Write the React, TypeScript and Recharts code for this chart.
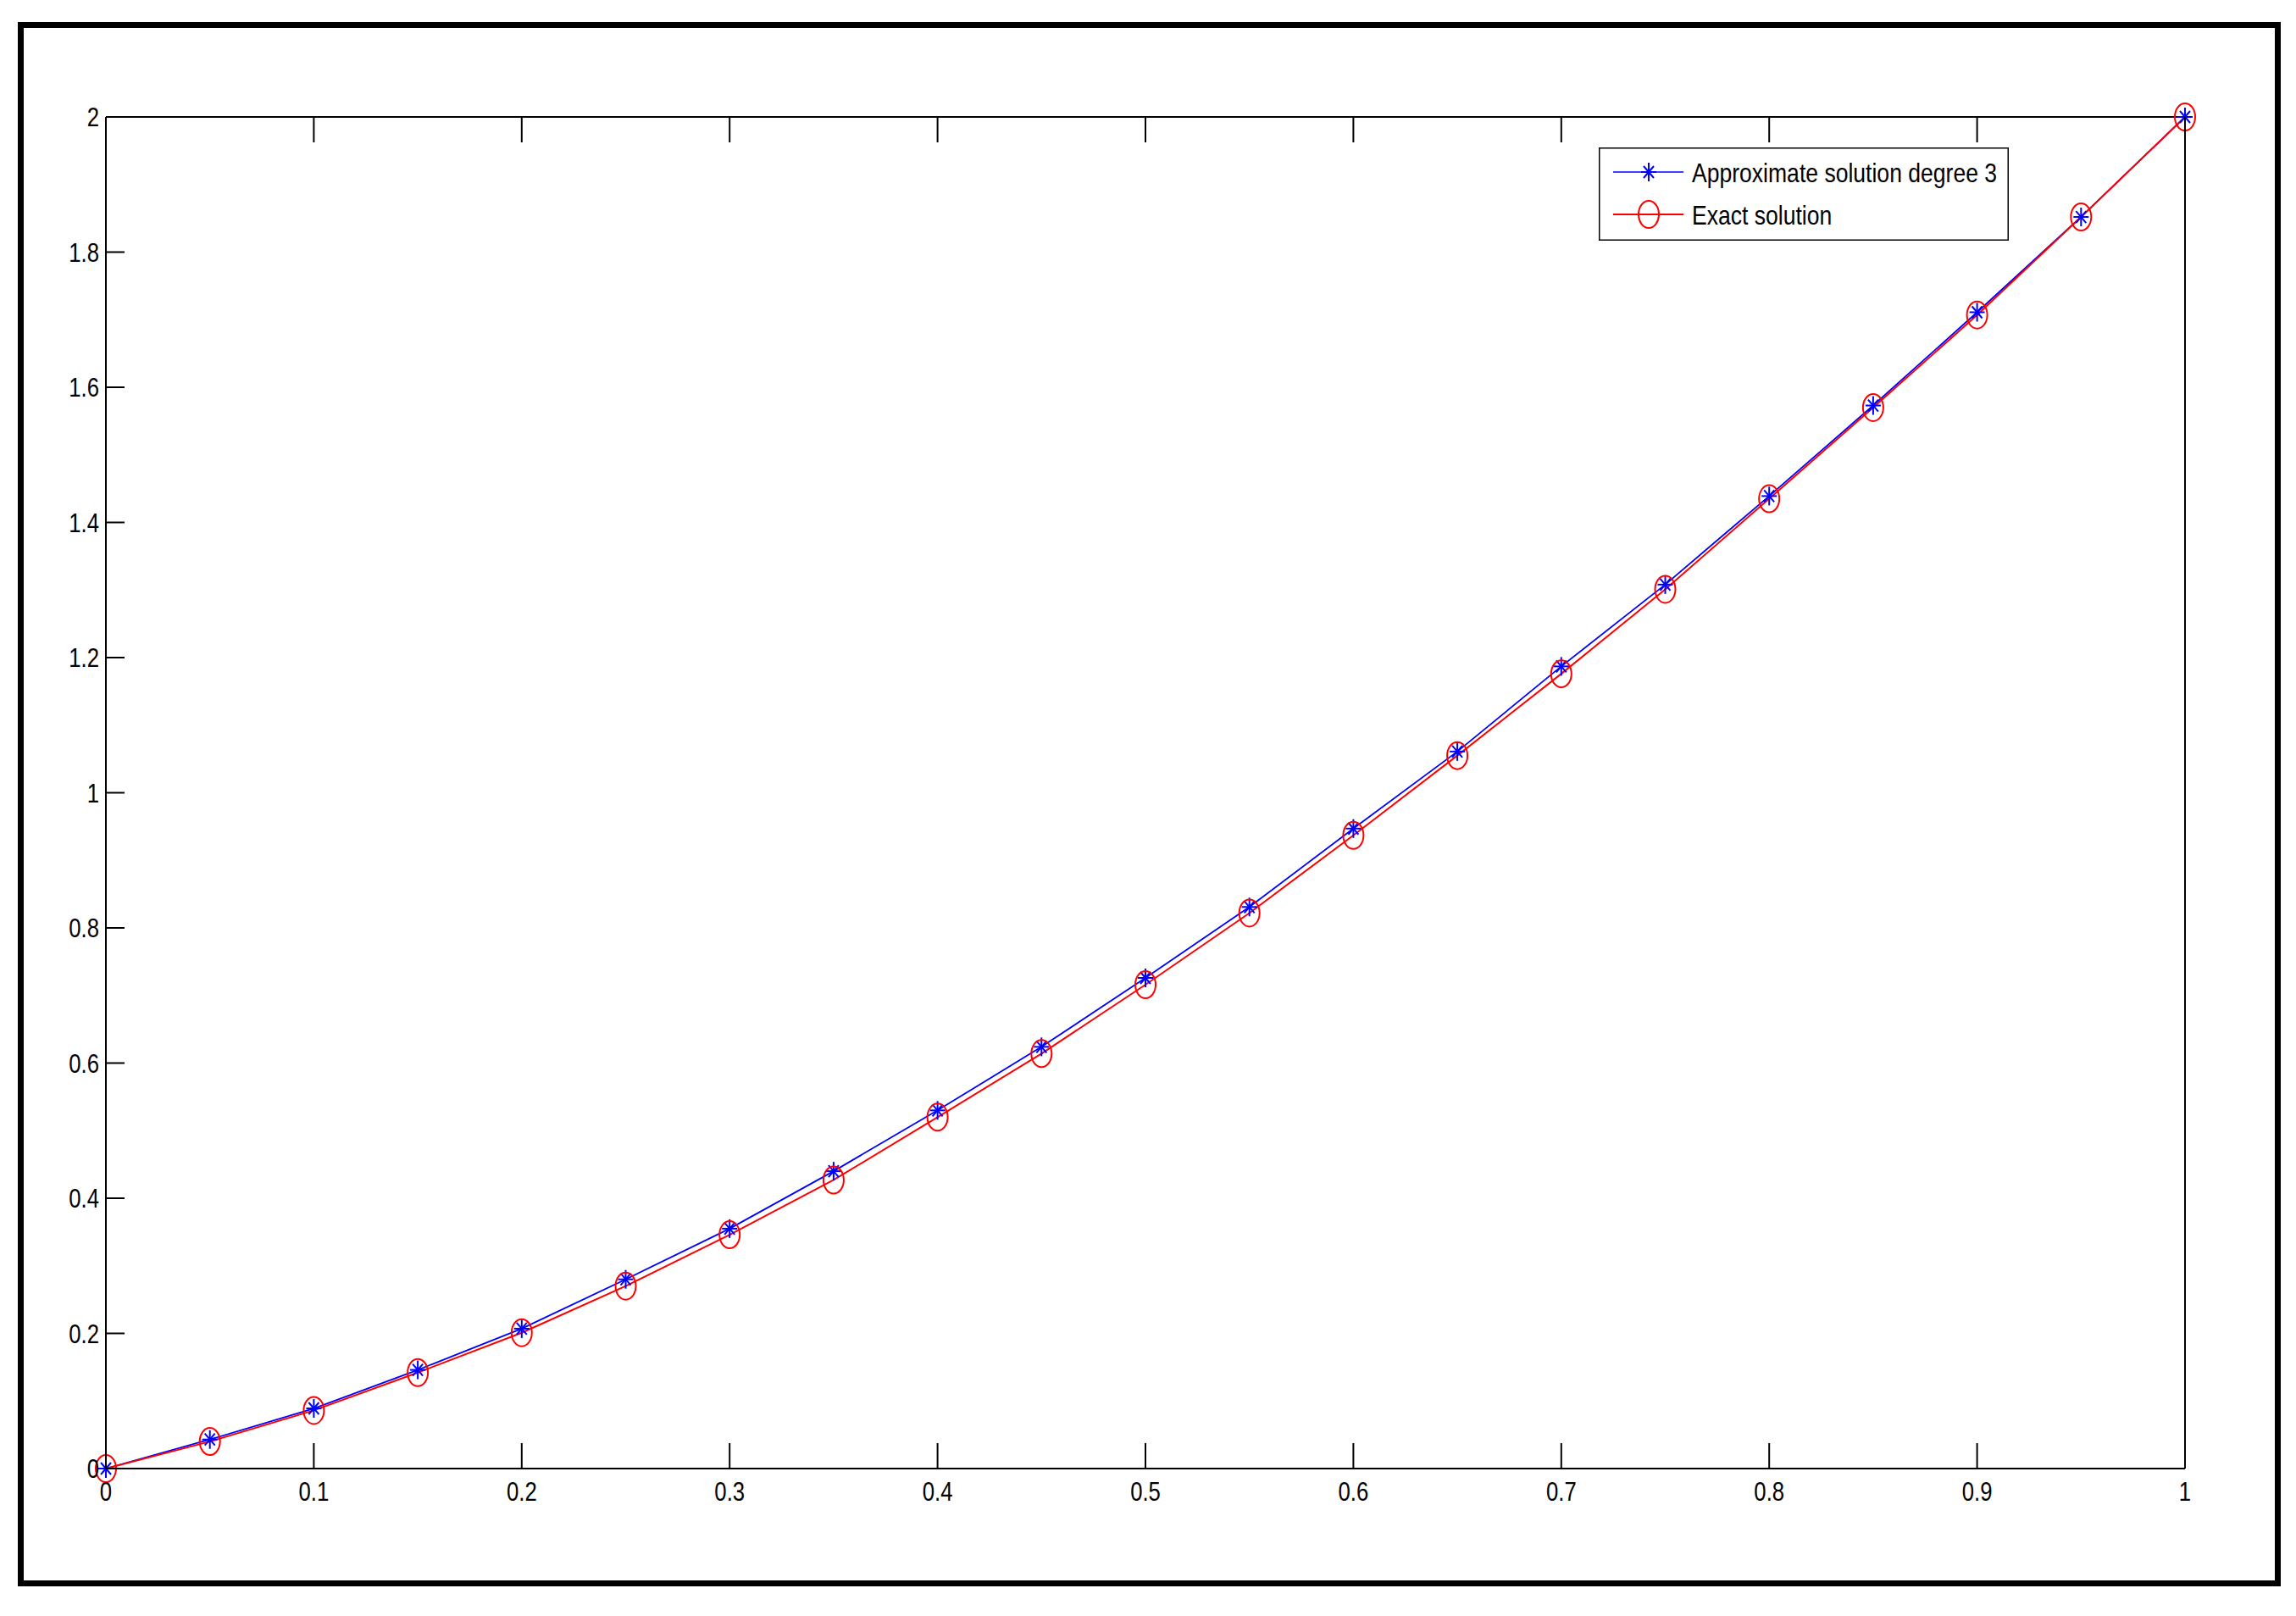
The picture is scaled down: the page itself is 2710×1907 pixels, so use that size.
import React from "react";
import { LineChart, Line, XAxis, YAxis, Legend } from "recharts";

// values
const xValues = [0, 0.05, 0.1, 0.15, 0.2, 0.25, 0.3, 0.35, 0.4, 0.45, 0.5, 0.55, 0.6, 0.65, 0.7, 0.75, 0.8, 0.85, 0.9, 0.95, 1];
const approxValues = [0, 0.043, 0.089, 0.146, 0.207, 0.28, 0.355, 0.44, 0.53, 0.624, 0.726, 0.831, 0.947, 1.061, 1.187, 1.308, 1.439, 1.573, 1.711, 1.852, 2.0];
const exactValues = [0, 0.04, 0.086, 0.142, 0.201, 0.27, 0.346, 0.427, 0.52, 0.614, 0.716, 0.822, 0.937, 1.055, 1.176, 1.301, 1.435, 1.57, 1.707, 1.852, 2.0];

const xTicks = [0, 0.1, 0.2, 0.3, 0.4, 0.5, 0.6, 0.7, 0.8, 0.9, 1];
const xTickLabels = ["0", "0.1", "0.2", "0.3", "0.4", "0.5", "0.6", "0.7", "0.8", "0.9", "1"];
const yTicks = [0, 0.2, 0.4, 0.6, 0.8, 1, 1.2, 1.4, 1.6, 1.8, 2];
const yTickLabels = ["0", "0.2", "0.4", "0.6", "0.8", "1", "1.2", "1.4", "1.6", "1.8", "2"];

const chartData = xValues.map((x, i) => ({ x, approx: approxValues[i], exact: exactValues[i] }));

const FONT = '"Liberation Sans", Arial, sans-serif';
const SQUEEZE = 0.83;

const labelFor = (ticks: number[], labels: string[], v: number) => {
  const i = ticks.indexOf(v);
  return i >= 0 ? labels[i] : String(v);
};

const Star = ({ cx, cy }: { cx: number; cy: number }) => (
  <g stroke="#0000ff" strokeWidth={2}>
    <line x1={cx} y1={cy - 11} x2={cx} y2={cy + 11} />
    <line x1={cx - 9} y1={cy} x2={cx + 9} y2={cy} />
    <line x1={cx - 6} y1={cy - 7} x2={cx + 6} y2={cy + 7} />
    <line x1={cx - 6} y1={cy + 7} x2={cx + 6} y2={cy - 7} />
  </g>
);

const Ring = ({ cx, cy }: { cx: number; cy: number }) => (
  <ellipse cx={cx} cy={cy} rx={12} ry={16} fill="none" stroke="#ff0000" strokeWidth={2} />
);

const BottomTick = (props: any) => {
  const { x, y, payload } = props;
  return (
    <g>
      <line x1={x} y1={y} x2={x} y2={y - 30} stroke="#000" strokeWidth={2} />
      <text
        transform={`translate(${x},${y + 38}) scale(${SQUEEZE},1)`}
        textAnchor="middle"
        fontSize={31}
        fontFamily={FONT}
        fill="#000"
      >
        {labelFor(xTicks, xTickLabels, payload.value)}
      </text>
    </g>
  );
};

const TopTick = (props: any) => {
  const { x, y } = props;
  return <line x1={x} y1={y} x2={x} y2={y + 30} stroke="#000" strokeWidth={2} />;
};

const LeftTick = (props: any) => {
  const { x, y, payload } = props;
  return (
    <g>
      <line x1={x} y1={y} x2={x + 22} y2={y} stroke="#000" strokeWidth={2} />
      <text
        transform={`translate(${x - 8},${y + 11}) scale(${SQUEEZE},1)`}
        textAnchor="end"
        fontSize={31}
        fontFamily={FONT}
        fill="#000"
      >
        {labelFor(yTicks, yTickLabels, payload.value)}
      </text>
    </g>
  );
};

const RightTick = (props: any) => {
  const { x, y } = props;
  return <line x1={x} y1={y} x2={x - 22} y2={y} stroke="#000" strokeWidth={2} />;
};

const LegendBox = (props: any) => {
  const items = props.payload ?? [];
  return (
    <svg width={484} height={110} style={{ display: "block" }}>
      <rect x={0.75} y={0.75} width={482.5} height={108.5} fill="#fff" stroke="#000" strokeWidth={1.5} />
      {items.map((entry: any, i: number) => {
        const cy = 29 + i * 50;
        const isApprox = entry.dataKey === "approx";
        return (
          <g key={entry.value}>
            <line x1={17} y1={cy} x2={100} y2={cy} stroke={entry.color} strokeWidth={isApprox ? 1.5 : 2} />
            {isApprox ? <Star cx={59} cy={cy} /> : <Ring cx={59} cy={cy} />}
            <text
              transform={`translate(110,${cy + 12}) scale(${SQUEEZE},1)`}
              fontSize={32}
              fontFamily={FONT}
              fill="#000"
            >
              {entry.value}
            </text>
          </g>
        );
      })}
    </svg>
  );
};

export default function App() {
  return (
    <div style={{ position: "absolute", left: 0, top: 0, width: 2710, height: 1907, background: "#fff" }}>
      <div
        style={{
          position: "absolute",
          left: 21,
          top: 26,
          width: 2671,
          height: 1846,
          border: "7px solid #000",
          boxSizing: "border-box",
        }}
      />
      <div style={{ position: "absolute", left: 0, top: 0 }}>
        <LineChart
          width={2710}
          height={1907}
          data={chartData}
          margin={{ top: 137, right: 130, bottom: 173, left: 124 }}
        >
          <XAxis
            dataKey="x"
            type="number"
            domain={[0, 1]}
            ticks={xTicks}
            interval={0}
            height={1}
            tickSize={0}
            tickMargin={0}
            tickLine={false}
            axisLine={{ stroke: "#000", strokeWidth: 2 }}
            tick={<BottomTick />}
          />
          <XAxis
            xAxisId="top"
            dataKey="x"
            type="number"
            orientation="top"
            domain={[0, 1]}
            ticks={xTicks}
            interval={0}
            height={1}
            tickSize={0}
            tickMargin={0}
            tickLine={false}
            axisLine={{ stroke: "#000", strokeWidth: 2 }}
            tick={<TopTick />}
          />
          <YAxis
            type="number"
            domain={[0, 2]}
            ticks={yTicks}
            interval={0}
            width={1}
            tickSize={0}
            tickMargin={0}
            tickLine={false}
            axisLine={{ stroke: "#000", strokeWidth: 2 }}
            tick={<LeftTick />}
          />
          <YAxis
            yAxisId="right"
            type="number"
            orientation="right"
            domain={[0, 2]}
            ticks={yTicks}
            interval={0}
            width={1}
            tickSize={0}
            tickMargin={0}
            tickLine={false}
            axisLine={{ stroke: "#000", strokeWidth: 2 }}
            tick={<RightTick />}
          />
          <Legend
            layout="horizontal"
            verticalAlign="middle"
            align="center"
            content={<LegendBox />}
            wrapperStyle={{ position: "absolute", left: 1887, top: 174, width: 484, height: 110 }}
          />
          <Line
            name="Approximate solution degree 3"
            dataKey="approx"
            stroke="#0000ff"
            strokeWidth={1.8}
            isAnimationActive={false}
            activeDot={false}
            dot={(p: any) => <Star key={`s-${p.index}`} cx={p.cx} cy={p.cy} />}
          />
          <Line
            name="Exact solution"
            dataKey="exact"
            stroke="#ff0000"
            strokeWidth={2}
            isAnimationActive={false}
            activeDot={false}
            dot={(p: any) => <Ring key={`r-${p.index}`} cx={p.cx} cy={p.cy} />}
          />
        </LineChart>
      </div>
    </div>
  );
}
